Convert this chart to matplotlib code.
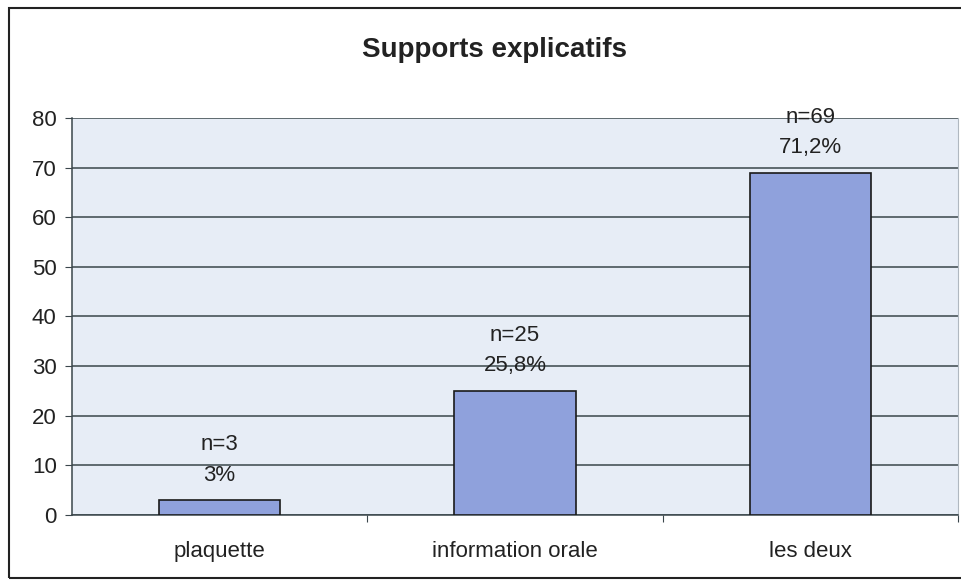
import matplotlib.pyplot as plt
from matplotlib.patches import Rectangle

plt.rcParams['font.family'] = ['Liberation Sans', 'DejaVu Sans']

# --- Data ---
categories = ['plaquette', 'information orale', 'les deux']
counts = [3, 25, 69]
percents = ['3%', '25,8%', '71,2%']
yticks = [0, 10, 20, 30, 40, 50, 60, 70, 80]

bar_color = '#8fa1dc'
bg_color = '#e7edf6'
grid_color = '#3a464b'

fig = plt.figure(figsize=(9.62, 5.81), dpi=100)
ax = fig.add_axes([72 / 962, 66 / 581, 886 / 962, 397 / 581])
ax.set_facecolor(bg_color)

x = range(len(categories))
ax.bar(x, counts, width=0.41, color=bar_color, edgecolor='#1a1a1a', linewidth=1.2, zorder=3)

# --- Labels above bars ---
for i, (n, p) in enumerate(zip(counts, percents)):
    ax.annotate(f'n={n}', (i, n), xytext=(0, 40), textcoords='offset points',
                ha='center', va='center', fontsize=16, color='#222222')
    ax.annotate(p, (i, n), xytext=(0, 18), textcoords='offset points',
                ha='center', va='center', fontsize=16, color='#222222')

# --- Axes ---
ax.set_ylim(0, 80)
ax.set_xlim(-0.5, 2.5)
ax.set_yticks(yticks)
ax.yaxis.grid(True, color=grid_color, linewidth=1.1, zorder=1)
ax.set_axisbelow(True)
ax.set_xticks([0.5, 1.5, 2.5], minor=False)
ax.set_xticklabels([])
ax.set_xticks(list(x), minor=True)
ax.set_xticklabels(categories, minor=True, fontsize=16, color='#222222')
ax.tick_params(axis='x', which='minor', length=0, pad=19)
ax.tick_params(axis='x', which='major', length=5, color=grid_color, direction='out')
ax.tick_params(axis='y', length=5, color=grid_color, labelsize=16, labelcolor='#222222', pad=6)

for side in ['left', 'bottom']:
    ax.spines[side].set_color(grid_color)
    ax.spines[side].set_linewidth(1.1)
ax.spines['top'].set_visible(False)
ax.spines['right'].set_color('#b0b8c0')

fig.text(495 / 962, 1 - 50 / 581, 'Supports explicatifs', ha='center', va='center',
         fontsize=20, fontweight='bold', color='#222222')

# outer frame
fig.patches.append(Rectangle((9 / 962, 3 / 581), 1.0, 570 / 581, transform=fig.transFigure,
                             fill=False, edgecolor='#222222', linewidth=1.5))

fig.savefig('out.png', dpi=100)
